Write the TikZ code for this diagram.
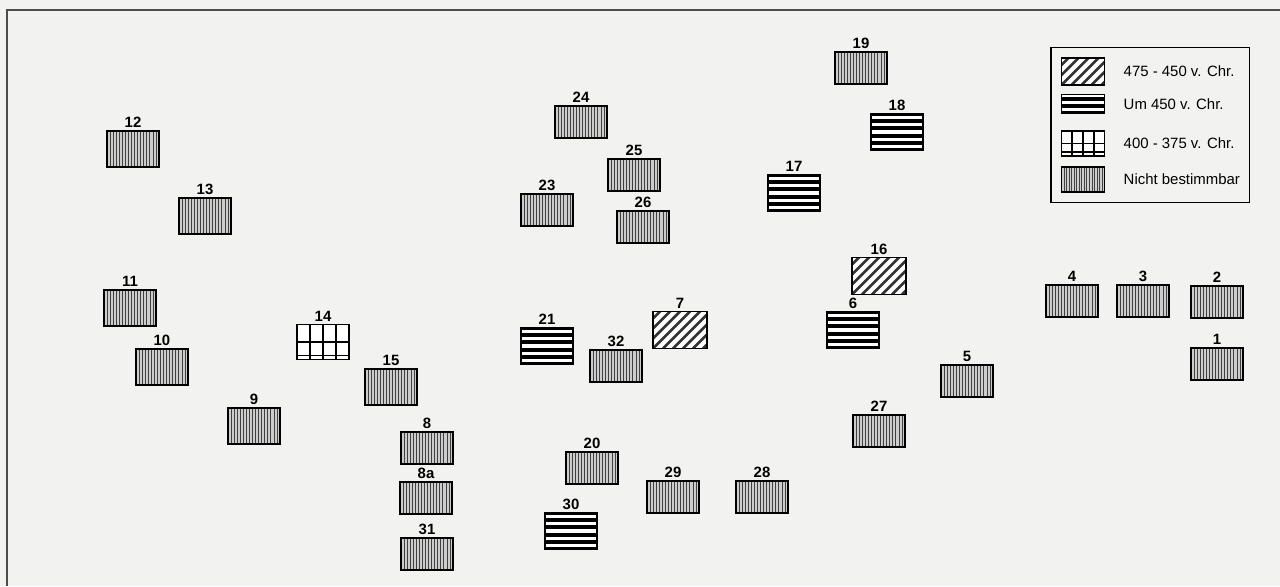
\documentclass[tikz,border=0pt]{standalone}
\usepackage{fontspec}
\setmainfont{Liberation Sans}
\usetikzlibrary{positioning, fit, calc}

\definecolor{paper}{RGB}{242,242,240}

\begin{document}
\begin{tikzpicture}[
        x=0.02cm, y=-0.02cm,
        site/.style={draw, line width=1pt, inner sep=0, minimum width=1.04cm, minimum height=0.64cm},
        tall/.style={minimum height=0.72cm},
        lab/.style={font=\fontsize{8.5}{10}\selectfont\bfseries, inner sep=1.2pt},
        legtext/.style={font=\fontsize{8.5}{10}\selectfont, anchor=west, inner sep=0},
        % nicht bestimmbar
        undatbox/.style={site, fill=gray!40, path picture={
            \foreach \k in {1,...,16}
                \draw[black!75, line width=0.4pt]
                    ($(path picture bounding box.south west)!\k/17!(path picture bounding box.south east)$) --
                    ($(path picture bounding box.north west)!\k/17!(path picture bounding box.north east)$);
        }},
        % um 450 v. Chr.
        stripebox/.style={site, fill=white, minimum height=0.74cm, path picture={
            \foreach \k in {0,...,5}
                \draw[black, line width=2.3pt]
                    ([yshift=\k*0.148cm]path picture bounding box.south west) --
                    ([yshift=\k*0.148cm]path picture bounding box.south east);
        }},
        % 475 - 450 v. Chr.
        hatchbox/.style={site, fill=white, minimum width=1.08cm, minimum height=0.74cm, path picture={
            \foreach \k in {-4,...,6}
                \draw[black!80, line width=1.5pt]
                    ([xshift=\k*0.2cm]path picture bounding box.south west) -- ++(0.8cm,0.8cm);
        }},
        % 400 - 375 v. Chr.
        gridbox/.style={site, fill=white, minimum height=0.7cm, path picture={
            \foreach \k in {1,2,3}
                \draw[line width=0.9pt]
                    ($(path picture bounding box.south west)!\k/4!(path picture bounding box.south east)$) --
                    ($(path picture bounding box.north west)!\k/4!(path picture bounding box.north east)$);
            \draw[line width=0.9pt] (path picture bounding box.west) -- (path picture bounding box.east);
            \draw[line width=0.9pt] ([yshift=0.08cm]path picture bounding box.south west) -- ([yshift=0.08cm]path picture bounding box.south east);
        }}
    ]

    \fill[paper] (0,0) rectangle (1280,586);
    \useasboundingbox (0,0) rectangle (1280,586);
    \draw[black!70, line width=0.9pt] (7,586) -- (7,10) -- (1280,10);

    % linke Gruppe
    \node[undatbox, tall, label={[lab]above:12}] (n12) at (133,149) {};
    \node[undatbox, tall, label={[lab]above:13}] (n13) at (205,216) {};
    \node[undatbox, tall, label={[lab]above:11}] (n11) at (130,308) {};
    \node[undatbox, tall, label={[lab]above:10}] (n10) at (162,367) {};
    \node[undatbox, tall, label={[lab]above:9}] (n9) at (254,426) {};
    \node[gridbox, label={[lab]above:14}] (n14) at (323,342) {};
    \node[undatbox, tall, label={[lab]above:15}] (n15) at (391,387) {};
    \node[undatbox, label={[lab]above:8}] (n8) at (427,448) {};
    \node[undatbox, label={[lab]above:8a}] (n8a) at (426,498) {};
    \node[undatbox, label={[lab]above:31}] (n31) at (427,554) {};

    % mittlere Gruppe
    \node[undatbox, label={[lab]above:24}] (n24) at (581,122) {};
    \node[undatbox, label={[lab]above:25}] (n25) at (634,175) {};
    \node[undatbox, label={[lab]above:23}] (n23) at (547,210) {};
    \node[undatbox, label={[lab]above:26}] (n26) at (643,227) {};
    \node[stripebox, label={[lab]above:21}] (n21) at (547,346) {};
    \node[undatbox, label={[lab]above:32}] (n32) at (616,366) {};
    \node[hatchbox, label={[lab]above:7}] (n7) at (680,330) {};
    \node[undatbox, label={[lab]above:20}] (n20) at (592,468) {};
    \node[stripebox, label={[lab]above:30}] (n30) at (571,531) {};
    \node[undatbox, label={[lab]above:29}] (n29) at (673,497) {};
    \node[undatbox, label={[lab]above:28}] (n28) at (762,497) {};

    % rechte Gruppe
    \node[undatbox, label={[lab]above:19}] (n19) at (861,68) {};
    \node[stripebox, label={[lab]above:18}] (n18) at (897,132) {};
    \node[stripebox, label={[lab]above:17}] (n17) at (794,193) {};
    \node[hatchbox, label={[lab]above:16}] (n16) at (879,276) {};
    \node[stripebox, label={[lab]above:6}] (n6) at (853,330) {};
    \node[undatbox, label={[lab]above:27}] (n27) at (879,431) {};
    \node[undatbox, label={[lab]above:5}] (n5) at (967,381) {};
    \node[undatbox, label={[lab]above:4}] (n4) at (1072,301) {};
    \node[undatbox, label={[lab]above:3}] (n3) at (1143,301) {};
    \node[undatbox, label={[lab]above:2}] (n2) at (1217,302) {};
    \node[undatbox, label={[lab]above:1}] (n1) at (1217,364) {};

    % Legende
    \node[hatchbox, minimum width=0.86cm, minimum height=0.54cm] (k1) at (1083,71.5) {};
    \node[stripebox, minimum width=0.86cm, minimum height=0.38cm] (k2) at (1083,104) {};
    \node[gridbox, minimum width=0.86cm, minimum height=0.5cm] (k3) at (1083,143.5) {};
    \node[undatbox, minimum width=0.86cm, minimum height=0.5cm] (k4) at (1083,179.5) {};
    \node[legtext, right=0.36cm of k1] (t1) {475 - 450 v. Chr.};
    \node[legtext, right=0.36cm of k2] (t2) {Um 450 v. Chr.};
    \node[legtext, right=0.36cm of k3] (t3) {400 - 375 v. Chr.};
    \node[legtext, right=0.36cm of k4] (t4) {Nicht bestimmbar};
    \node[draw, line width=0.8pt, inner sep=0.19cm, fit=(k1)(k4)(t4)] (legend) {};
\end{tikzpicture}
\end{document}
